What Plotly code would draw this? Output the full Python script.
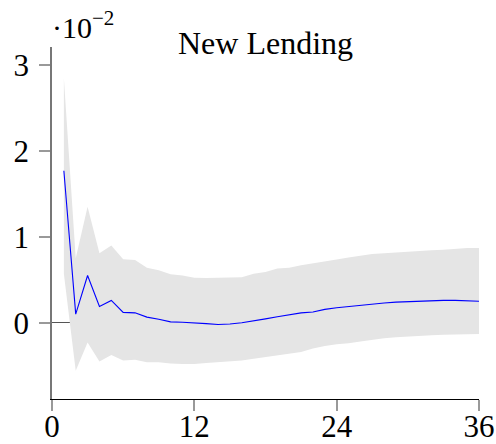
import plotly.graph_objects as go

horizon = list(range(1, 37))
irf = [1.77, 0.10, 0.55, 0.19, 0.26, 0.12, 0.115, 0.065, 0.04, 0.01,
       0.005, 0.0, -0.01, -0.02, -0.015, 0.0, 0.02, 0.045, 0.07, 0.09,
       0.115, 0.125, 0.155, 0.175, 0.19, 0.205, 0.22, 0.23, 0.24, 0.245,
       0.25, 0.26, 0.26, 0.26, 0.255, 0.25]
upper = [2.85, 0.75, 1.35, 0.81, 0.90, 0.74, 0.73, 0.64, 0.61, 0.565,
         0.55, 0.525, 0.52, 0.525, 0.525, 0.53, 0.57, 0.59, 0.63, 0.64,
         0.67, 0.69, 0.71, 0.735, 0.76, 0.78, 0.80, 0.81, 0.82, 0.83,
         0.835, 0.845, 0.85, 0.86, 0.87, 0.87]
lower = [0.57, -0.56, -0.23, -0.45, -0.375, -0.44, -0.43, -0.46, -0.46, -0.475,
         -0.48, -0.48, -0.47, -0.46, -0.45, -0.44, -0.42, -0.40, -0.38, -0.36,
         -0.34, -0.30, -0.27, -0.25, -0.24, -0.22, -0.20, -0.18, -0.17, -0.16,
         -0.15, -0.145, -0.14, -0.135, -0.13, -0.13]
xticks = [0, 12, 24, 36]
yticks = [0, 1, 2, 3]

font = "Liberation Serif"

fig = go.Figure()
# confidence band
fig.add_trace(go.Scatter(x=horizon, y=upper, mode="lines", line=dict(width=0),
                         showlegend=False, hoverinfo="skip"))
fig.add_trace(go.Scatter(x=horizon, y=lower, mode="lines", line=dict(width=0),
                         fill="tonexty", fillcolor="#e5e5e5",
                         showlegend=False, hoverinfo="skip"))
# point estimate
fig.add_trace(go.Scatter(x=horizon, y=irf, mode="lines",
                         line=dict(color="#0000ff", width=1.1), showlegend=False))

fig.update_layout(
    width=496, height=444,
    margin=dict(l=52, r=17, t=47, b=45),
    paper_bgcolor="white", plot_bgcolor="white",
    font=dict(family=font, size=31, color="black"),
    showlegend=False,
)
fig.update_xaxes(range=[0, 36], tickvals=xticks, showgrid=False, zeroline=False,
                 showline=True, linecolor="black", linewidth=1.2, automargin=False,
                 ticks="outside", ticklen=11, tickcolor="#999999", tickwidth=1.5,
                 ticklabelstandoff=-11)
fig.update_yaxes(range=[-0.888, 3.21], tickvals=yticks, showgrid=False,
                 zeroline=True, zerolinecolor="#555555", zerolinewidth=1,
                 showline=True, linecolor="#777777", linewidth=1.5, automargin=False,
                 ticks="outside", ticklen=11, tickcolor="#999999", tickwidth=1.5,
                 ticklabelstandoff=4)

fig.add_annotation(xref="paper", yref="paper", x=0.5, y=1.0, yanchor="bottom",
                   text="New Lending", showarrow=False, yshift=-16,
                   font=dict(family=font, size=32))
fig.add_annotation(xref="paper", yref="paper", x=0, y=1.0, xanchor="left",
                   yanchor="bottom", text="·10<sup>−2</sup>", showarrow=False,
                   xshift=-2, yshift=1, font=dict(family=font, size=30))

# drop the default body margin so the figure fills the window exactly
fig.write_html("out.html", config={"displayModeBar": False},
               post_script="document.body.style.margin='0';"
                           "document.body.style.overflow='hidden';")
